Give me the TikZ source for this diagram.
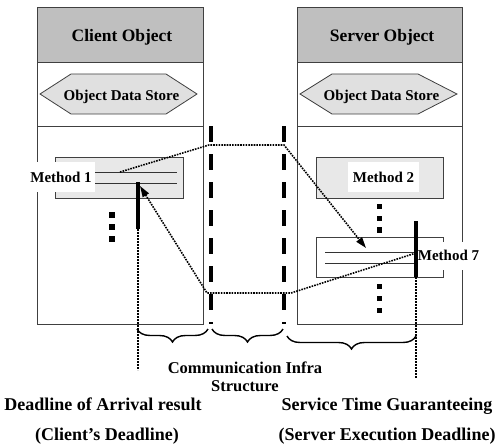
\documentclass[tikz,border=0pt]{standalone}
\usepackage{fontspec}
\setmainfont{Liberation Serif}
\usetikzlibrary{arrows.meta,decorations.pathreplacing}
\begin{document}
\begin{tikzpicture}[x=1pt,y=-1pt,
  frame/.style={draw=black!75,line width=0.8pt},
  hexa/.style={draw=black!75,line width=0.8pt,fill=black!12},
  mbox/.style={draw=black!75,line width=0.8pt,fill=black!9},
  mline/.style={draw=black!80,line width=0.8pt},
  whitebox/.style={fill=white,draw=none},
  ttl/.style={font=\bfseries\fontsize{17.5}{18}\selectfont,anchor=base,inner sep=0pt},
  sml/.style={font=\bfseries\fontsize{15}{16}\selectfont,anchor=base,inner sep=0pt},
  big/.style={font=\bfseries\fontsize{18}{19}\selectfont,anchor=base,inner sep=0pt},
  mid/.style={font=\bfseries\fontsize{16.5}{17}\selectfont,anchor=base,inner sep=0pt},
  msg/.style={line width=1.6pt,dash pattern=on 1.6pt off 1.1pt},
  vdot/.style={line width=1.3pt,dash pattern=on 2pt off 1pt},
  comm/.style={line width=3.8pt,dash pattern=on 16pt off 12pt},
  thk/.style={line width=3.5pt},
  sq/.style={fill=black,minimum size=5.5pt,inner sep=0pt,draw=none},
  tip/.style={-{Triangle[length=11pt,width=7pt]}},
  brc/.style={decorate,decoration={brace,mirror,amplitude=13pt},line width=1.4pt}
]
\useasboundingbox (0,0) rectangle (501,444);
% client object
\fill[black!25] (37,7) rectangle (203,62);
\draw[frame] (37,7) rectangle (203,324);
\draw[frame] (37,62) -- (203,62);
\draw[frame] (37,126) -- (203,126);
\draw[hexa] (40,94) -- (71,74) -- (166,74) -- (197,94) -- (166,114) -- (71,114) -- cycle;
\node[ttl] (cobj) at (122,41.5) {Client Object};
\node[sml] (cds) at (121.5,100) {Object Data Store};
% server object
\fill[black!25] (297,7) rectangle (462,62);
\draw[frame] (297,7) rectangle (462,324);
\draw[frame] (297,62) -- (462,62);
\draw[frame] (297,126) -- (462,126);
\draw[hexa] (300,94) -- (332,74) -- (418,74) -- (457,94) -- (418,114) -- (332,114) -- cycle;
\node[ttl] (sobj) at (382,41.5) {Server Object};
\node[sml] (sds) at (381.5,100) {Object Data Store};
% method 1
\draw[mbox] (55,157) rectangle (183,198);
\draw[mline] (95,172) -- (177,172);
\draw[mline] (95,183) -- (177,183);
\fill[whitebox] (29,162) rectangle (95,192);
\node[sml] (m1) at (61,182) {Method 1};
% method 2
\draw[mbox] (316,157) rectangle (443,198);
\fill[whitebox] (348,162) rectangle (419,192);
\node[sml] (m2) at (383.5,182) {Method 2};
% method 7
\draw[frame,fill=white] (316,237) rectangle (443,277);
\draw[mline] (325,252) -- (416,252);
\draw[mline] (325,263) -- (416,263);
\fill[whitebox] (418,242) rectangle (484,270);
\node[sml] (m7) at (448.5,260) {Method 7};
% dots
\foreach \y in {215,227,239} \node[sq] at (112,\y) {};
\foreach \y in {206.5,218.5,230,286.5,298.5,310.5} \node[sq] at (379.5,\y) {};
% communication lines
\coordinate (cl1) at (211,126); \coordinate (cl2) at (211,324);
\coordinate (cr1) at (284,126); \coordinate (cr2) at (284,324);
\draw[comm] (cl1) -- (cl2);
\draw[comm] (cr1) -- (cr2);
% deadlines
\coordinate (ct) at (138,182); \coordinate (cm) at (138,229); \coordinate (cb) at (138,370);
\coordinate (st) at (416,221); \coordinate (sm) at (416,277); \coordinate (sb) at (416,378);
\draw[vdot] (cm) -- (cb);
\draw[vdot] (sm) -- (sb);
\draw[thk] (ct) -- (cm);
\draw[thk] (st) -- (sm);
% messages
\coordinate (a0) at (120,172); \coordinate (a1) at (209,145); \coordinate (a2) at (284,145); \coordinate (a3) at (366,248);
\coordinate (b0) at (416,253); \coordinate (b1) at (291,293); \coordinate (b2) at (207,293); \coordinate (b3) at (140,186);
\draw[msg,tip] (a0) -- (a1) -- (a2) -- (a3);
\draw[msg,tip] (b0) -- (b1) -- (b2) -- (b3);
% braces
\draw[brc] (137,329) -- (208,329);
\draw[brc] (212,329) -- (283,329);
\draw[brc] (287,336) -- (416,336);
% labels
\node[mid] (cis1) at (245,373.5) {Communication Infra};
\node[mid] (cis2) at (245,391) {Structure};
\node[big] (dl1) at (103,410.5) {Deadline of Arrival result};
\node[big] (dl2) at (107,440) {(Client’s Deadline)};
\node[big] (st1) at (387,410.5) {Service Time Guaranteeing};
\node[big] (st2) at (387,440) {(Server Execution Deadline)};
\end{tikzpicture}
\end{document}
